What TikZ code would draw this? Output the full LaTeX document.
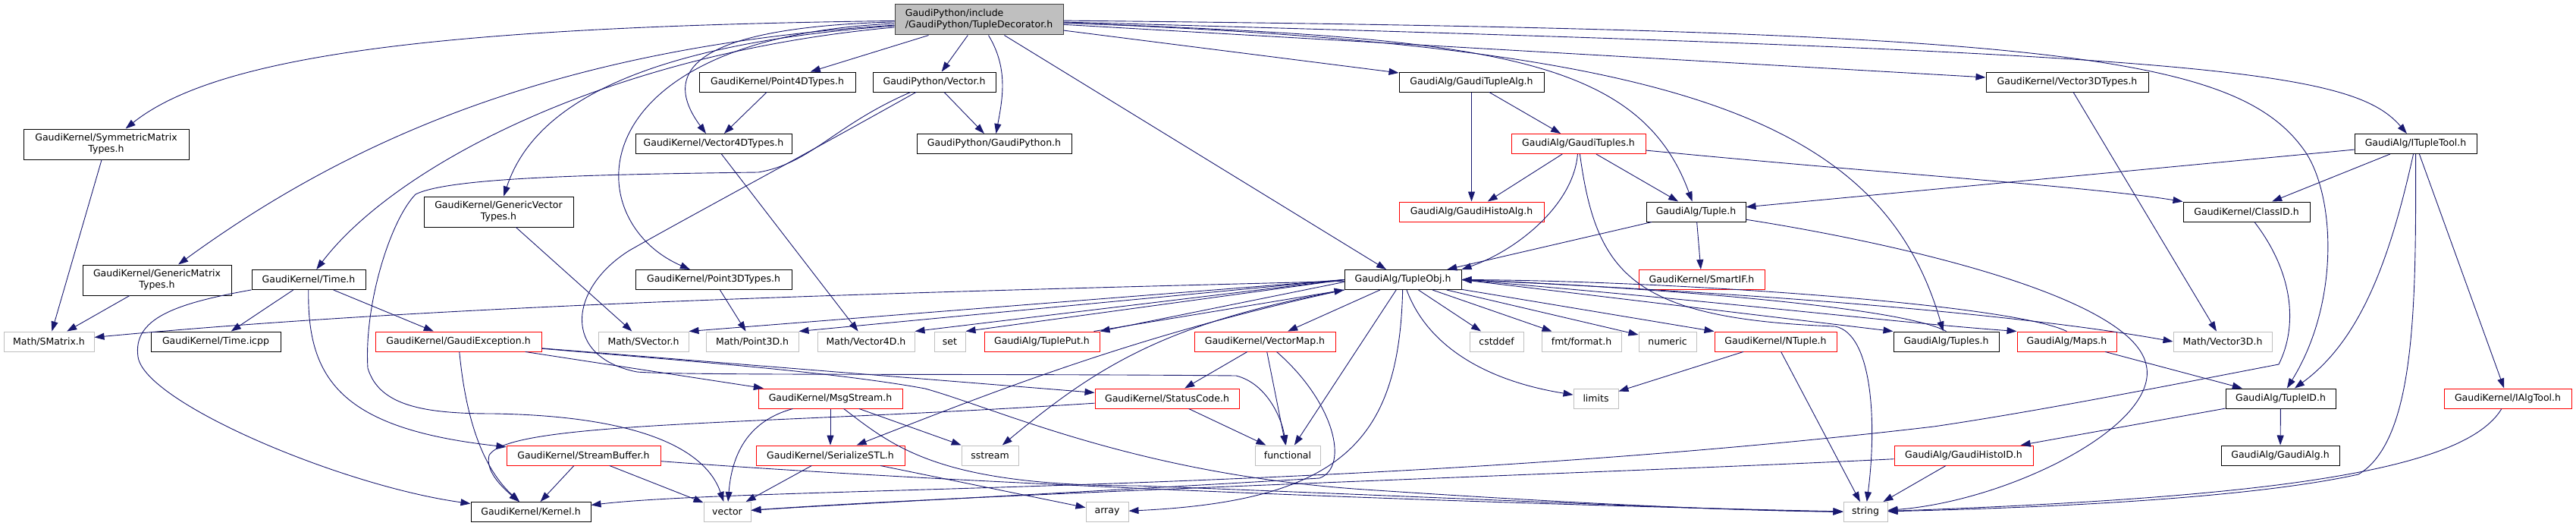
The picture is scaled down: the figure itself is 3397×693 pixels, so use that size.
\documentclass[tikz,border=0pt]{standalone}
\usepackage{fontspec}
\setmainfont{DejaVu Sans}
\usepackage{xcolor}
\usetikzlibrary{arrows.meta}
\definecolor{edgeblue}{RGB}{25,25,112}
\definecolor{sysgray}{RGB}{191,191,191}
\definecolor{rootfill}{RGB}{191,191,191}
\definecolor{truncred}{RGB}{255,0,0}

\begin{document}
\begin{tikzpicture}[x=1pt,y=-1pt,
    hdr/.style={draw=black, line width=1pt, minimum height=26pt, inner sep=0pt,
      font=\fontsize{12.5}{15}\selectfont},
    roothdr/.style={hdr, draw=black!75, fill=rootfill},
    redhdr/.style={hdr, draw=truncred},
    syshdr/.style={hdr, draw=sysgray},
    incl/.style={draw=edgeblue, line width=0.9pt, -{Triangle[length=13pt,width=9pt]}}]
    \useasboundingbox (0,0) rectangle (3397,693);
    % Root header
    \node[roothdr, minimum width=222pt, minimum height=40pt, align=left] (TD) at (1291,26) {GaudiPython/include\\/GaudiPython/TupleDecorator.h};
    % Row 1
    \node[hdr, minimum width=206pt] (Pt4D) at (1025,108) {GaudiKernel/Point4DTypes.h};
    \node[hdr, minimum width=162pt] (GPVec) at (1232,108) {GaudiPython/Vector.h};
    \node[hdr, minimum width=191pt] (GTAlg) at (1940.5,108) {GaudiAlg/GaudiTupleAlg.h};
    \node[hdr, minimum width=214pt] (Vec3DT) at (2726,108) {GaudiKernel/Vector3DTypes.h};
    % Row 2
    \node[hdr, minimum width=218pt, minimum height=40pt, align=center] (SymMat) at (140,190) {GaudiKernel/SymmetricMatrix\\Types.h};
    \node[hdr, minimum width=206pt] (Vec4DT) at (941,189.5) {GaudiKernel/Vector4DTypes.h};
    \node[hdr, minimum width=204pt] (GPy) at (1311,189.5) {GaudiPython/GaudiPython.h};
    \node[redhdr, minimum width=177pt] (GTuples) at (2081.5,189.5) {GaudiAlg/GaudiTuples.h};
    \node[hdr, minimum width=161pt] (ITT) at (3185.5,189.5) {GaudiAlg/ITupleTool.h};
    % Row 3
    \node[hdr, minimum width=197pt, minimum height=40pt, align=center] (GenVec) at (657.5,279) {GaudiKernel/GenericVector\\Types.h};
    \node[redhdr, minimum width=191pt] (GHAlg) at (1940.5,279) {GaudiAlg/GaudiHistoAlg.h};
    \node[hdr, minimum width=131pt] (Tuple) at (2236.5,279) {GaudiAlg/Tuple.h};
    \node[hdr, minimum width=167pt] (ClassID) at (2962.5,279) {GaudiKernel/ClassID.h};
    % Row 4
    \node[hdr, minimum width=196pt, minimum height=40pt, align=center] (GenMat) at (207,369) {GaudiKernel/GenericMatrix\\Types.h};
    \node[hdr, minimum width=150pt] (Time) at (407,368.5) {GaudiKernel/Time.h};
    \node[hdr, minimum width=206pt] (Pt3DT) at (941,368.5) {GaudiKernel/Point3DTypes.h};
    \node[hdr, minimum width=154pt] (TO) at (1850,368.5) {GaudiAlg/TupleObj.h};
    \node[redhdr, minimum width=166pt] (SmartIF) at (2244,368.5) {GaudiKernel/SmartIF.h};
    % Row 5
    \node[syshdr, minimum width=119pt] (SMatrix) at (64.5,450) {Math/SMatrix.h};
    \node[hdr, minimum width=171pt] (TimeIcpp) at (284.5,450) {GaudiKernel/Time.icpp};
    \node[redhdr, minimum width=219pt] (GExc) at (604.5,450) {GaudiKernel/GaudiException.h};
    \node[syshdr, minimum width=119pt] (SVector) at (848.5,450) {Math/SVector.h};
    \node[syshdr, minimum width=122pt] (Point3D) at (992,450) {Math/Point3D.h};
    \node[syshdr, minimum width=128pt] (Vector4D) at (1142,450) {Math/Vector4D.h};
    \node[syshdr, minimum width=41pt] (set) at (1252.5,450) {set};
    \node[redhdr, minimum width=152pt] (TuplePut) at (1374,450) {GaudiAlg/TuplePut.h};
    \node[redhdr, minimum width=186pt] (VecMap) at (1668,450) {GaudiKernel/VectorMap.h};
    \node[syshdr, minimum width=71pt] (cstddef) at (1973.5,450) {cstddef};
    \node[syshdr, minimum width=105pt] (fmt) at (2085.5,450) {fmt/format.h};
    \node[syshdr, minimum width=76pt] (numeric) at (2199,450) {numeric};
    \node[redhdr, minimum width=161pt] (NTuple) at (2341.5,450) {GaudiKernel/NTuple.h};
    \node[hdr, minimum width=139pt] (Tuples) at (2566.5,450) {GaudiAlg/Tuples.h};
    \node[redhdr, minimum width=131pt] (Maps) at (2725.5,450) {GaudiAlg/Maps.h};
    \node[syshdr, minimum width=130pt] (Vector3D) at (2931,450) {Math/Vector3D.h};
    % Row 6
    \node[redhdr, minimum width=190pt] (MsgStream) at (1095,525) {GaudiKernel/MsgStream.h};
    \node[redhdr, minimum width=190pt] (StatusCode) at (1539,525) {GaudiKernel/StatusCode.h};
    \node[syshdr, minimum width=59pt] (limits) at (2104.5,525) {limits};
    \node[hdr, minimum width=145pt] (TupleID) at (3007.5,525) {GaudiAlg/TupleID.h};
    \node[redhdr, minimum width=168pt] (IAlgTool) at (3307,525) {GaudiKernel/IAlgTool.h};
    % Row 7
    \node[redhdr, minimum width=203pt] (StreamBuf) at (769.5,600) {GaudiKernel/StreamBuffer.h};
    \node[redhdr, minimum width=196pt] (SerSTL) at (1095,600) {GaudiKernel/SerializeSTL.h};
    \node[syshdr, minimum width=75pt] (sstream) at (1305.5,600) {sstream};
    \node[syshdr, minimum width=86pt] (functional) at (1698,600) {functional};
    \node[redhdr, minimum width=183pt] (GHID) at (2589.5,600) {GaudiAlg/GaudiHistoID.h};
    \node[hdr, minimum width=156pt] (GaudiAlg) at (3007,600) {GaudiAlg/GaudiAlg.h};
    % Row 8
    \node[hdr, minimum width=158pt] (Kernel) at (700,674.5) {GaudiKernel/Kernel.h};
    \node[syshdr, minimum width=62pt] (vector) at (959,674.5) {vector};
    \node[syshdr, minimum width=56pt] (array) at (1460,674.5) {array};
    \node[syshdr, minimum width=58pt] (string) at (2460,674.5) {string};

    % Includes of the root header
    \draw[incl] (TD) .. controls (600,35) and (290,70) .. (SymMat);
    \draw[incl] (TD) .. controls (760,60) and (480,170) .. (GenMat);
    \draw[incl] (TD) .. controls (800,70) and (520,220) .. (Time);
    \draw[incl] (TD) .. controls (820,60) and (700,150) .. (GenVec);
    \draw[incl] (TD) .. controls (950,35) and (860,80) .. (Vec4DT);
    \draw[incl] (TD) -- (Pt4D);
    \draw[incl] (TD) -- (GPVec);
    \draw[incl] (TD) .. controls (1330,90) and (1322,130) .. (GPy);
    \draw[incl] (TD) .. controls (760,50) and (760,290) .. (Pt3DT);
    \draw[incl] (TD) -- (TO);
    \draw[incl] (TD) -- (GTAlg);
    \draw[incl] (TD) .. controls (1950,50) and (2160,70) .. (Tuple);
    \draw[incl] (TD) .. controls (2200,60) and (2480,150) .. (Tuples);
    \draw[incl] (TD) -- (Vec3DT);
    \draw[incl] (TD) .. controls (2900,70) and (3100,90) .. (ITT);
    \draw[incl] (TD) .. controls (2700,40) and (2950,70) .. (3040,200) .. controls (3080,260) and (3085,400) .. (TupleID);
    % GaudiPython/Vector.h
    \draw[incl] (GPVec) -- (GPy);
    \draw[incl] (GPVec) .. controls (1100,165) and (1070,215) .. (1000,227) .. controls (760,230) and (590,235) .. (548,256)
      .. controls (515,290) and (480,400) .. (485,485) .. controls (500,535) and (560,545) .. (650,545)
      .. controls (840,548) and (930,590) .. (vector);
    \draw[incl] (GPVec) .. controls (1050,210) and (900,290) .. (830,330) .. controls (750,380) and (740,470) .. (840,490)
      .. controls (900,495) and (1300,492) .. (1630,495) .. controls (1670,505) and (1690,550) .. (functional);
    % Small type headers
    \draw[incl] (SymMat) -- (SMatrix);
    \draw[incl] (GenMat) -- (SMatrix);
    \draw[incl] (GenVec) -- (SVector);
    \draw[incl] (Pt4D) -- (Vec4DT);
    \draw[incl] (Vec4DT) -- (Vector4D);
    \draw[incl] (Pt3DT) -- (Point3D);
    \draw[incl] (Vec3DT) -- (Vector3D);
    % GaudiKernel/Time.h
    \draw[incl] (Time) -- (TimeIcpp);
    \draw[incl] (Time) -- (GExc);
    \draw[incl] (Time) .. controls (230,400) and (175,420) .. (182,470) .. controls (190,530) and (450,640) .. (Kernel);
    \draw[incl] (Time) .. controls (405,500) and (450,565) .. (StreamBuf);
    % GaudiKernel/GaudiException.h
    \draw[incl] (GExc) .. controls (615,560) and (640,620) .. (Kernel);
    \draw[incl] (GExc) -- (MsgStream);
    \draw[incl] (GExc) -- (StatusCode);
    \draw[incl] (GExc) .. controls (900,475) and (1100,490) .. (1220,512) .. controls (1320,540) and (1500,625) .. (1800,645)
      .. controls (2100,665) and (2300,673) .. (string);
    % Stream and status headers
    \draw[incl] (StreamBuf) -- (Kernel);
    \draw[incl] (StreamBuf) -- (vector);
    \draw[incl] (StreamBuf) .. controls (1300,640) and (2000,665) .. (string);
    \draw[incl] (MsgStream) .. controls (985,555) and (965,600) .. (vector);
    \draw[incl] (MsgStream) -- (SerSTL);
    \draw[incl] (MsgStream) -- (sstream);
    \draw[incl] (MsgStream) .. controls (1180,590) and (1240,640) .. (1500,640) .. controls (1900,655) and (2250,672) .. (string);
    \draw[incl] (StatusCode) .. controls (1000,560) and (670,555) .. (645,600) .. controls (640,620) and (660,640) .. (Kernel);
    \draw[incl] (StatusCode) -- (functional);
    \draw[incl] (VecMap) -- (StatusCode);
    \draw[incl] (VecMap) -- (functional);
    \draw[incl] (VecMap) .. controls (1760,530) and (1780,615) .. (1740,630) .. controls (1400,650) and (1100,665) .. (vector);
    \draw[incl] (SerSTL) -- (vector);
    \draw[incl] (SerSTL) -- (array);
    % GaudiAlg/TupleObj.h
    \draw[incl] (TO) .. controls (1200,385) and (600,400) .. (SMatrix);
    \draw[incl] (TO.west) -- (SVector.north east);
    \draw[incl] (TO.west) -- (Point3D.north east);
    \draw[incl] (TO.west) -- (Vector4D.north east);
    \draw[incl] (TO.west) -- (set.north east);
    \draw[incl] ([yshift=-3pt]TO.west) -- (TuplePut.north east);
    \draw[incl] ([xshift=-8pt]TuplePut.north east) -- (TO.south west);
    \draw[incl] (TO) -- (VecMap);
    \draw[incl] (TO.south west) .. controls (1500,440) and (1300,520) .. (SerSTL);
    \draw[incl] (TO.south west) .. controls (1540,425) and (1450,480) .. (sstream);
    \draw[incl] (TO) -- (functional);
    \draw[incl] (TO) .. controls (1845,580) and (1770,660) .. (array);
    \draw[incl] (TO) .. controls (1880,450) and (1950,500) .. (limits);
    \draw[incl] (TO) -- (cstddef);
    \draw[incl] (TO) -- (fmt);
    \draw[incl] (TO) -- (numeric);
    \draw[incl] (TO) -- (NTuple);
    \draw[incl] (TO.east) -- (Tuples.north west);
    \draw[incl] (Tuples.north) .. controls (2500,400) and (2100,375) .. (TO.east);
    \draw[incl] (TO.east) .. controls (2300,400) and (2500,425) .. (Maps.north west);
    \draw[incl] (Maps.north) .. controls (2650,400) and (2200,370) .. (TO.east);
    \draw[incl] (TO.east) .. controls (2400,390) and (2700,420) .. (Vector3D.west);
    % GaudiAlg tuple headers
    \draw[incl] (GTAlg) -- (GHAlg);
    \draw[incl] (GTAlg) -- (GTuples);
    \draw[incl] (GTuples) -- (GHAlg);
    \draw[incl] (GTuples) -- (Tuple);
    \draw[incl] (GTuples) .. controls (2075,270) and (2000,330) .. (TO.north east);
    \draw[incl] (GTuples) .. controls (2105,360) and (2150,420) .. (2420,430) .. controls (2470,440) and (2475,560) .. (string);
    \draw[incl] (GTuples) .. controls (2500,230) and (2750,245) .. (ClassID);
    \draw[incl] (Tuple) -- (SmartIF);
    \draw[incl] (Tuple) -- (TO);
    \draw[incl] (Tuple) .. controls (2500,320) and (2810,390) .. (2830,480) .. controls (2850,560) and (2650,660) .. (string);
    \draw[incl] (NTuple) -- (limits);
    \draw[incl] (NTuple) -- (string);
    % GaudiAlg/ITupleTool.h
    \draw[incl] (ITT) -- (Tuple);
    \draw[incl] (ITT) -- (ClassID);
    \draw[incl] (ITT) .. controls (3150,350) and (3110,450) .. (TupleID);
    \draw[incl] (ITT) .. controls (3186,400) and (3186,580) .. (3110,625) .. controls (2950,660) and (2650,670) .. (string);
    \draw[incl] (ITT) -- (IAlgTool);
    \draw[incl] (IAlgTool) .. controls (3250,620) and (3000,655) .. (string);
    % GaudiKernel/ClassID.h
    \draw[incl] (ClassID) .. controls (3025,360) and (3030,430) .. (3005,480) .. controls (2900,500) and (2700,540) .. (2550,562)
      .. controls (1800,650) and (1000,640) .. (Kernel);
    % Maps and ids
    \draw[incl] (Maps) -- (TupleID);
    \draw[incl] (TupleID) -- (GHID);
    \draw[incl] (TupleID) -- (GaudiAlg);
    \draw[incl] (GHID) .. controls (2200,620) and (1300,650) .. (vector);
    \draw[incl] (GHID) -- (string);
\end{tikzpicture}
\end{document}
